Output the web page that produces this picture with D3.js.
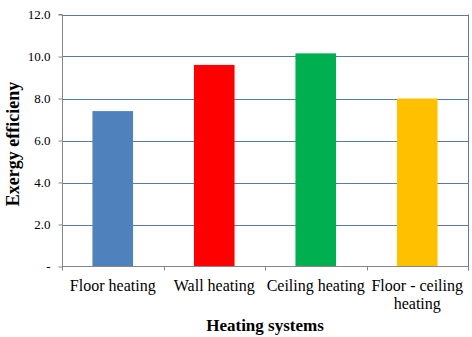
<!DOCTYPE html>
<html>
<head>
<meta charset="utf-8">
<script src="https://cdn.jsdelivr.net/npm/d3@7"></script>
<style>
  html, body { margin: 0; padding: 0; background: #ffffff; }
  svg { display: block; }
  svg text { font-family: "Liberation Serif", "Times New Roman", serif; }
</style>
</head>
<body>
<script>
const categories = ["Floor heating", "Wall heating", "Ceiling heating", "Floor - ceiling heating"];
const values = [7.4, 9.6, 10.15, 8.0];
const colors = ["#4F81BD", "#FF0000", "#00B050", "#FFC000"];
const yTicks = [0, 2, 4, 6, 8, 10, 12];
const yTickLabels = ["-", "2.0", "4.0", "6.0", "8.0", "10.0", "12.0"];
const xTitle = "Heating systems";
const yTitle = "Exergy efficieny";

const W = 472, H = 337;
const svg = d3.select("body").append("svg").attr("width", W).attr("height", H);
const font = "'Liberation Serif', 'Times New Roman', serif";

const x = d3.scaleBand().domain(categories).range([62, 468]).paddingInner(0.6).paddingOuter(0.3);
const y = d3.scaleLinear().domain([0, 12]).range([266.5, 14.5]);

// gridlines
svg.append("g").selectAll("line").data(yTicks.filter(d => d > 0)).join("line")
  .attr("x1", 62).attr("x2", 468)
  .attr("y1", d => Math.round(y(d)) + 0.5).attr("y2", d => Math.round(y(d)) + 0.5)
  .attr("stroke", "#5B79A8").attr("stroke-width", 1);
// right border
svg.append("line").attr("x1", 468.5).attr("x2", 468.5).attr("y1", y(12)).attr("y2", y(0) + 4)
  .attr("stroke", "#5B79A8");

// bars
svg.append("g").selectAll("rect").data(values).join("rect")
  .attr("x", (d, i) => x(categories[i]))
  .attr("width", x.bandwidth())
  .attr("y", d => y(d))
  .attr("height", d => y(0) - y(d))
  .attr("fill", (d, i) => colors[i]);

// y axis
const yAxis = d3.axisLeft(y).tickValues(yTicks).tickSize(4).tickPadding(8)
  .tickFormat((d, i) => yTickLabels[i]);
const gy = svg.append("g").attr("transform", "translate(62.5,0)").call(yAxis)
  .attr("font-family", null).style("font-family", font);
gy.select(".domain").attr("stroke", "#868686").attr("d", `M-4,${y(12)}H0V${y(0)}`);
gy.selectAll(".tick line").attr("stroke", "#868686");
gy.selectAll(".tick text").style("font-family", font).style("font-size", "13px").attr("fill", "#000");

// x axis
const gx = svg.append("g").attr("transform", `translate(0,${y(0)})`);
gx.append("line").attr("x1", 62).attr("x2", 468).attr("y1", 0).attr("y2", 0).attr("stroke", "#868686");
const bounds = categories.map(c => x(c) - x.step() * x.paddingInner() / 2);
bounds.push(468);
gx.selectAll("line.tk").data(bounds).join("line").attr("class", "tk")
  .attr("x1", d => Math.round(d) + 0.5).attr("x2", d => Math.round(d) + 0.5)
  .attr("y1", 0).attr("y2", 4).attr("stroke", "#868686");

// category labels with wrapping
const measure = svg.append("text").style("font-family", font).style("font-size", "16px").attr("visibility", "hidden");
function wrap(str, maxW) {
  const words = str.split(" ");
  const lines = [];
  let cur = "";
  for (const w of words) {
    const test = cur ? cur + " " + w : w;
    measure.text(test);
    if (measure.node().getComputedTextLength() > maxW && cur) {
      lines.push(cur); cur = w;
    } else cur = test;
  }
  lines.push(cur);
  return lines;
}
categories.forEach(c => {
  const lines = wrap(c, x.step() - 1);
  const t = svg.append("text").style("font-family", font).style("font-size", "16px")
    .attr("text-anchor", "middle").attr("fill", "#000");
  lines.forEach((l, i) => {
    t.append("tspan").attr("x", x(c) + x.bandwidth() / 2).attr("y", 291 + i * 17.5).text(l);
  });
});
measure.remove();

// axis titles
svg.append("text").attr("x", (62 + 468) / 2).attr("y", 331)
  .attr("text-anchor", "middle").style("font-family", font).style("font-size", "17px")
  .attr("font-weight", "bold").text(xTitle);
svg.append("text").attr("transform", "translate(19,144) rotate(-90)")
  .attr("text-anchor", "middle").style("font-family", font).style("font-size", "18px")
  .attr("font-weight", "bold").text(yTitle);
</script>
</body>
</html>
